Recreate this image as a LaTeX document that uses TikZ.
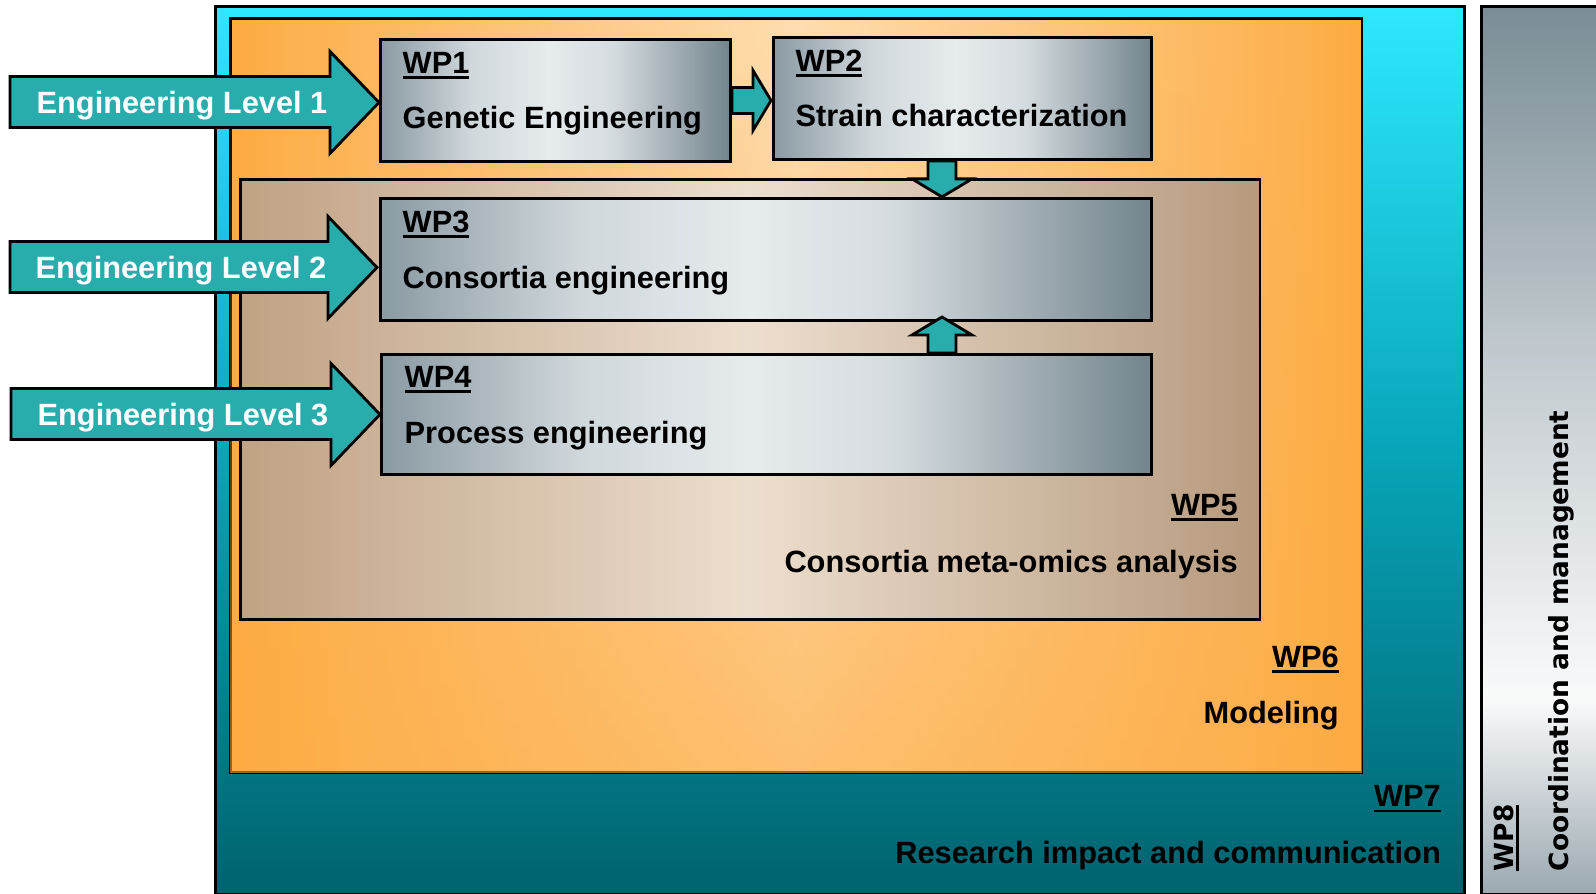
\documentclass[tikz,border=0pt]{standalone}
\usepackage{fontspec}
\setmainfont{Liberation Sans}
\newfontfamily\wpwide{DejaVu Sans}
\usetikzlibrary{positioning,calc,fadings}

\definecolor{wpslate}{RGB}{122,140,150}
\definecolor{wppale}{RGB}{230,235,237}
\definecolor{wpteal}{RGB}{40,172,172}
\definecolor{wpcyan}{RGB}{45,232,255}
\definecolor{wptealmid}{RGB}{8,165,185}
\definecolor{wptealdark}{RGB}{0,98,110}
\definecolor{wporange}{RGB}{253,172,68}
\definecolor{wplightorange}{RGB}{255,222,178}
\definecolor{wpbrown}{RGB}{192,162,132}
\definecolor{wplightbrown}{RGB}{236,222,206}

% the part from 25bp to 75bp is stretched over the box
\pgfdeclareverticalshading{wpeight}{100bp}{color(0bp)=(wpslate!75!white); color(25bp)=(wpslate!75!white); color(36bp)=(white!96!wpslate); color(55bp)=(wpslate!45!white); color(75bp)=(wpslate); color(100bp)=(wpslate)}
\pgfdeclarehorizontalshading{wpgrey}{100bp}{color(0bp)=(wpslate!88!white); color(25bp)=(wpslate!88!white); color(38bp)=(wppale!80!wpslate); color(49bp)=(wppale); color(58bp)=(wppale!85!wpslate); color(75bp)=(wpslate!94!black); color(100bp)=(wpslate!94!black)}

\newcommand\wpfont{\fontsize{8.75}{10}\selectfont\bfseries}
\newcommand\wpsfont{\wpwide\fontsize{7.5}{9}\selectfont\bfseries}
\newcommand\wpul[1]{\setbox0=\hbox{#1}\rlap{\rule[-1.7pt]{\wd0}{0.8pt}}\box0}

\begin{document}
\begin{tikzpicture}[x=0.01cm, y=-0.01cm,
    wpframe/.style={draw, line width=0.8pt, anchor=north west, inner sep=0pt},
    wpbox/.style={wpframe, minimum height=1.22cm, shade, shading=wpgrey},
    wptag/.style={anchor=base west, inner sep=0pt, font=\wpfont},
    wptagr/.style={anchor=base east, inner sep=0pt, font=\wpfont},
    lvltext/.style={anchor=base, inner sep=0pt, text=white, font=\wpfont},
    blockarrow/.style={draw, line width=0.8pt, fill=wpteal, line join=miter}]

    % page
    \fill[white] (0,0) rectangle (1596,893);
    \useasboundingbox (0,0) rectangle (1596,893);

    % outer work packages
    \node[wpframe, minimum width=12.48cm, minimum height=8.87cm, top color=wpcyan, bottom color=wptealdark, middle color=wptealmid] (wp7) at (214,5) {};
    \node[wpframe, minimum width=1.3cm, minimum height=8.87cm, shade, shading=wpeight] (wp8) at (1480,5) {};
    \node[wpframe, minimum width=11.31cm, minimum height=7.54cm, left color=wporange, right color=wporange, middle color=wplightorange] (wp6) at (229,17) {};
    \fill[wporange, path fading=north, fill opacity=0.6] ($(wp6.north west)+(1.5,1.5)$) rectangle ($(wp6.south east)+(-1.5,-1.5)$);
    \node[wpframe, minimum width=10.19cm, minimum height=4.4cm, left color=wpbrown, right color=wpbrown!95!black, middle color=wplightbrown] (wp5) at (239,178) {};

    % inner work packages
    \node[wpbox, minimum width=3.5cm] (wp1) at (379,38) {};
    \node[wpbox, minimum width=3.78cm] (wp2) at (772,36) {};
    \node[wpbox, minimum width=7.71cm] (wp3) at (379,197) {};
    \node[wpbox, minimum width=7.70cm, minimum height=1.2cm] (wp4) at (380,353) {};

    \node[wptag] (wp1n) at ($(wp1.north west)+(23,35)$) {\wpul{WP1}};
    \node[wptag] (wp1t) at ($(wp1.north west)+(23,90)$) {Genetic Engineering};
    \node[wptag] (wp2n) at ($(wp2.north west)+(23,35)$) {\wpul{WP2}};
    \node[wptag] (wp2t) at ($(wp2.north west)+(23,90)$) {Strain characterization};
    \node[wptag] (wp3n) at ($(wp3.north west)+(23,35)$) {\wpul{WP3}};
    \node[wptag] (wp3t) at ($(wp3.north west)+(23,91)$) {Consortia engineering};
    \node[wptag] (wp4n) at ($(wp4.north west)+(24,34)$) {\wpul{WP4}};
    \node[wptag] (wp4t) at ($(wp4.north west)+(24,90)$) {Process engineering};

    \node[wptagr] (wp5n) at ($(wp5.south east)+(-23,-106)$) {\wpul{WP5}};
    \node[wptagr] (wp5t) at ($(wp5.south east)+(-23,-49)$) {Consortia meta-omics analysis};
    \node[wptagr] (wp6n) at ($(wp6.south east)+(-24,-107)$) {\wpul{WP6}};
    \node[wptagr] (wp6t) at ($(wp6.south east)+(-24,-51)$) {Modeling};
    \node[wptagr] (wp7n) at ($(wp7.south east)+(-24,-89)$) {\wpul{WP7}};
    \node[wptagr] (wp7t) at ($(wp7.south east)+(-24,-32)$) {Research impact and communication};

    \node[wptag, rotate=90, font=\wpsfont] (wp8n) at (1513,872) {\wpul{WP8}};
    \node[wptag, rotate=90, font=\wpsfont] (wp8t) at (1568,872) {Coordination and management};

    % links between work packages
    \draw[blockarrow] (wp1.east) ++(0,-13) -- ++(21,0) -- ++(0,-17) -- ++(18,30) -- ++(-18,30) -- ++(0,-17) -- ++(-21,0) -- cycle;
    \coordinate (dn) at ($(wp2.south west)+(170,0)$);
    \draw[blockarrow] (dn) ++(-14,0) -- ++(0,18) -- ++(-16,0) -- ++(30,18) -- ++(30,-18) -- ++(-16,0) -- ++(0,-18) -- cycle;
    \coordinate (up) at ($(wp4.north west)+(562,0)$);
    \draw[blockarrow] (up) ++(-14,0) -- ++(0,-18) -- ++(-16,0) -- ++(30,-18) -- ++(30,18) -- ++(-16,0) -- ++(0,18) -- cycle;

    % engineering levels
    \coordinate (lvl1tip) at ($(wp1.west)+(0,2)$);
    \coordinate (lvl2tip) at ($(wp3.west)+(-2,8)$);
    \coordinate (lvl3tip) at (wp4.west);
    \draw[blockarrow] (lvl1tip) -- ++(-49,-51) -- ++(0,25) -- ++(-320,0) -- ++(0,51) -- ++(320,0) -- ++(0,26) -- cycle;
    \draw[blockarrow] (lvl2tip) -- ++(-49,-51) -- ++(0,25) -- ++(-318,0) -- ++(0,51) -- ++(318,0) -- ++(0,26) -- cycle;
    \draw[blockarrow] (lvl3tip) -- ++(-49,-51) -- ++(0,25) -- ++(-320,0) -- ++(0,51) -- ++(320,0) -- ++(0,26) -- cycle;
    \node[lvltext] (lvl1) at ($(lvl1tip)+(-197,11)$) {Engineering Level 1};
    \node[lvltext] (lvl2) at ($(lvl2tip)+(-196,11)$) {Engineering Level 2};
    \node[lvltext] (lvl3) at ($(lvl3tip)+(-197,11)$) {Engineering Level 3};
\end{tikzpicture}
\end{document}
